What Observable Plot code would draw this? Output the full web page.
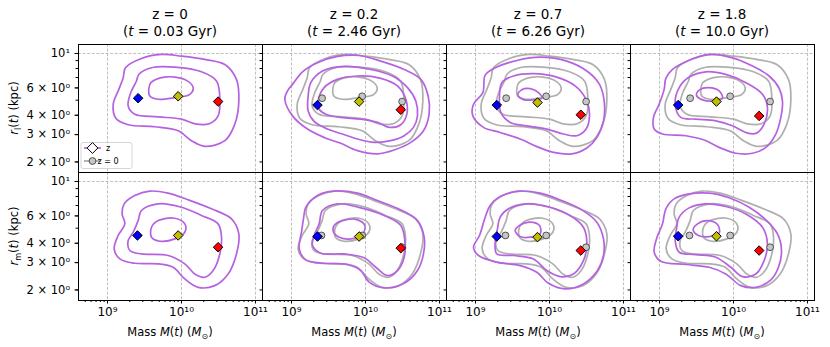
<!DOCTYPE html>
<html><head><meta charset="utf-8">
<script src="https://cdn.jsdelivr.net/npm/d3@7"></script>
<script src="https://cdn.jsdelivr.net/npm/@observablehq/plot@0.6"></script>
<style>
body{margin:0;background:#fff;}
#chart{width:830px;height:347px;}
text{font-family:"DejaVu Sans";}
</style></head><body><div id="chart"></div>
<script>
// ---------- data ----------
const redshifts = ["0", "0.2", "0.7", "1.8"];
const ages = ["0.03", "2.46", "6.26", "10.0"];
const markerNames = ["low", "mid", "high"];
// marker positions: log10 mass, radius in kpc (per column)
const rlLogMass = [[9.414, 9.955, 10.495], [9.351, 9.914, 10.477], [9.288, 9.838, 10.423], [9.252, 9.770, 10.347]];
const rlRadius = [[5.15, 5.30, 4.90], [4.65, 4.90, 4.34], [4.65, 4.83, 4.03], [4.65, 4.90, 3.96]];
const rmLogMass = [[9.405, 9.955, 10.495], [9.351, 9.914, 10.477], [9.288, 9.838, 10.423], [9.252, 9.770, 10.347]];
const rmRadius = [[4.49, 4.49, 3.77], [4.42, 4.42, 3.72], [4.42, 4.38, 3.59], [4.44, 4.44, 3.59]];
const xMajor = [1e9, 1e10, 1e11];
const xMinor = [5e8, 6e8, 7e8, 8e8, 9e8, 2e9, 3e9, 4e9, 5e9, 6e9, 7e9, 8e9, 9e9, 2e10, 3e10, 4e10, 5e10, 6e10, 7e10, 8e10, 9e10];
const yLabelled = [2, 3, 4, 6, 10];
const yUnlabelled = [5, 7, 8, 9];
// contour vertices: [log10 M, log10 r] ; three levels (outer, middle, inner)
const rl_z00 = [
 [[9.243,0.908],[9.459,0.968],[9.730,0.994],[10.0,0.983],[10.315,0.962],[10.586,0.929],[10.743,0.833],[10.775,0.694],[10.721,0.545],[10.586,0.438],[10.315,0.402],[10.135,0.438],[9.955,0.502],[9.640,0.528],[9.279,0.541],[9.113,0.583],[9.077,0.673],[9.153,0.769],[9.212,0.844]],
 [[9.423,0.865],[9.595,0.908],[9.910,0.912],[10.270,0.882],[10.473,0.823],[10.518,0.716],[10.495,0.598],[10.383,0.549],[10.203,0.545],[10.0,0.577],[9.685,0.592],[9.369,0.609],[9.279,0.662],[9.315,0.748],[9.392,0.823]],
 [[9.586,0.812],[9.775,0.848],[10.045,0.833],[10.158,0.780],[10.113,0.737],[9.910,0.716],[9.685,0.705],[9.572,0.726],[9.559,0.776]]
];
const rl_z02 = [
 [[9.014,0.801],[9.149,0.882],[9.351,0.940],[9.622,0.981],[9.914,0.987],[10.207,0.951],[10.523,0.897],[10.748,0.833],[10.847,0.726],[10.860,0.609],[10.784,0.502],[10.613,0.427],[10.387,0.378],[10.162,0.353],[9.892,0.374],[9.667,0.421],[9.441,0.459],[9.216,0.513],[9.014,0.598],[8.910,0.705],[8.946,0.759]],
 [[9.261,0.812],[9.419,0.887],[9.712,0.917],[10.072,0.897],[10.365,0.855],[10.568,0.780],[10.680,0.694],[10.703,0.598],[10.649,0.524],[10.523,0.470],[10.342,0.438],[10.117,0.427],[9.892,0.449],[9.689,0.481],[9.486,0.513],[9.306,0.562],[9.225,0.630],[9.225,0.726]],
 [[9.360,0.694],[9.441,0.780],[9.622,0.833],[9.892,0.855],[10.207,0.840],[10.432,0.791],[10.545,0.705],[10.559,0.609],[10.477,0.541],[10.320,0.524],[10.162,0.556],[9.937,0.577],[9.667,0.588],[9.464,0.609],[9.374,0.641]]
];
const rl_z07 = [
 [[9.131,0.861],[9.266,0.908],[9.559,0.955],[9.874,0.976],[10.234,0.951],[10.505,0.887],[10.676,0.801],[10.739,0.694],[10.730,0.566],[10.640,0.459],[10.505,0.391],[10.302,0.353],[10.054,0.363],[9.829,0.400],[9.604,0.449],[9.333,0.491],[9.108,0.524],[8.964,0.598],[8.973,0.673],[9.099,0.748]],
 [[9.324,0.716],[9.356,0.812],[9.514,0.855],[9.784,0.870],[10.099,0.848],[10.347,0.791],[10.505,0.694],[10.541,0.598],[10.495,0.513],[10.369,0.470],[10.189,0.481],[9.964,0.513],[9.694,0.534],[9.468,0.556],[9.342,0.620]],
 [[9.572,0.733],[9.626,0.767],[9.739,0.774],[9.851,0.748],[9.896,0.712],[9.784,0.701],[9.649,0.703]]
];
const rl_z18 = [
 [[9.086,0.840],[9.176,0.897],[9.356,0.947],[9.671,0.994],[9.986,0.972],[10.257,0.919],[10.482,0.855],[10.617,0.776],[10.662,0.694],[10.640,0.588],[10.572,0.481],[10.437,0.395],[10.257,0.357],[10.032,0.357],[9.806,0.395],[9.604,0.442],[9.356,0.470],[9.041,0.481],[8.928,0.513],[8.919,0.588],[8.995,0.673],[9.063,0.769]],
 [[9.212,0.673],[9.266,0.780],[9.401,0.848],[9.626,0.882],[9.896,0.865],[10.167,0.812],[10.392,0.737],[10.459,0.652],[10.414,0.545],[10.302,0.485],[10.167,0.491],[9.986,0.534],[9.761,0.566],[9.491,0.577],[9.288,0.588]],
 [[9.500,0.731],[9.545,0.767],[9.662,0.780],[9.806,0.759],[9.851,0.712],[9.739,0.694],[9.581,0.701]]
];
const rm_z00 = [
 [[9.225,0.856],[9.369,0.910],[9.572,0.938],[9.820,0.925],[10.090,0.882],[10.405,0.824],[10.676,0.759],[10.775,0.662],[10.743,0.533],[10.631,0.404],[10.450,0.329],[10.225,0.318],[10.045,0.372],[9.887,0.447],[9.685,0.469],[9.369,0.473],[9.167,0.501],[9.090,0.566],[9.144,0.652],[9.234,0.727],[9.198,0.791]],
 [[9.459,0.813],[9.685,0.856],[10.0,0.834],[10.270,0.781],[10.495,0.727],[10.541,0.641],[10.518,0.533],[10.428,0.426],[10.315,0.383],[10.180,0.404],[10.045,0.469],[9.820,0.523],[9.459,0.533],[9.302,0.555],[9.279,0.619],[9.347,0.673],[9.414,0.748]],
 [[9.595,0.705],[9.685,0.748],[9.910,0.763],[10.045,0.727],[10.045,0.673],[9.910,0.630],[9.707,0.615],[9.595,0.641]]
];
const rm_z02 = [
 [[9.194,0.834],[9.351,0.910],[9.577,0.938],[9.892,0.925],[10.162,0.877],[10.477,0.817],[10.703,0.748],[10.793,0.641],[10.784,0.533],[10.703,0.426],[10.523,0.344],[10.252,0.314],[10.050,0.351],[9.937,0.426],[9.757,0.465],[9.441,0.473],[9.194,0.495],[9.104,0.566],[9.135,0.673],[9.162,0.759]],
 [[9.419,0.813],[9.622,0.856],[9.937,0.830],[10.252,0.781],[10.477,0.716],[10.532,0.619],[10.523,0.512],[10.432,0.426],[10.297,0.394],[10.140,0.447],[9.982,0.508],[9.712,0.533],[9.396,0.538],[9.284,0.587],[9.306,0.652],[9.374,0.727]],
 [[9.577,0.716],[9.689,0.748],[9.892,0.753],[9.991,0.716],[9.959,0.662],[9.802,0.630],[9.644,0.641],[9.568,0.673]]
];
const rm_z07 = [
 [[9.198,0.845],[9.333,0.903],[9.604,0.938],[9.874,0.925],[10.167,0.877],[10.437,0.817],[10.640,0.738],[10.730,0.630],[10.730,0.523],[10.649,0.426],[10.459,0.340],[10.212,0.308],[9.986,0.344],[9.829,0.415],[9.604,0.458],[9.288,0.480],[9.041,0.523],[8.973,0.576],[9.054,0.652],[9.131,0.770]],
 [[9.333,0.770],[9.446,0.824],[9.694,0.856],[10.009,0.834],[10.279,0.781],[10.459,0.705],[10.505,0.598],[10.459,0.490],[10.324,0.404],[10.144,0.387],[9.964,0.426],[9.784,0.501],[9.514,0.523],[9.288,0.533],[9.266,0.609],[9.297,0.695]],
 [[9.536,0.684],[9.604,0.720],[9.739,0.738],[9.865,0.716],[9.874,0.662],[9.739,0.641],[9.604,0.645]]
];
const rm_z18 = [
 [[9.086,0.824],[9.198,0.888],[9.401,0.920],[9.671,0.925],[9.941,0.895],[10.212,0.834],[10.437,0.753],[10.595,0.662],[10.649,0.555],[10.608,0.447],[10.505,0.366],[10.302,0.318],[10.099,0.329],[9.896,0.404],[9.671,0.447],[9.356,0.465],[9.018,0.486],[8.928,0.544],[8.959,0.630],[9.041,0.727]],
 [[9.266,0.770],[9.401,0.830],[9.626,0.856],[9.896,0.839],[10.167,0.791],[10.392,0.705],[10.459,0.598],[10.414,0.490],[10.302,0.404],[10.122,0.387],[9.964,0.447],[9.761,0.512],[9.491,0.529],[9.266,0.544],[9.212,0.619],[9.230,0.695]],
 [[9.455,0.688],[9.514,0.727],[9.649,0.748],[9.784,0.723],[9.806,0.667],[9.671,0.645],[9.527,0.652]]
];

// ---------- build tables ----------
const contourSets = [[rl_z00, rl_z02, rl_z07, rl_z18], [rm_z00, rm_z02, rm_z07, rm_z18]];
const markerMass = [rlLogMass, rmLogMass];
const markerRadius = [rlRadius, rmRadius];
const purpleLines = [], greyLines = [], diamonds = [], circles = [];
contourSets.forEach((set, row) => set.forEach((levels, col) => {
  levels.forEach((pts, k) => pts.forEach(([lm, lr]) =>
    purpleLines.push({row, col, id: `p${row}-${col}-${k}`, M: 10 ** lm, r: 10 ** lr})));
  if (col > 0) set[0].forEach((pts, k) => pts.forEach(([lm, lr]) =>
    greyLines.push({row, col, id: `g${row}-${col}-${k}`, M: 10 ** lm, r: 10 ** lr})));
}));
[0, 1].forEach(row => redshifts.forEach((_, col) => markerNames.forEach((name, i) => {
  diamonds.push({row, col, name, M: 10 ** markerMass[row][col][i], r: markerRadius[row][col][i]});
  if (col > 0) circles.push({row, col, M: 10 ** markerMass[row][0][i], r: markerRadius[row][0][i]});
})));

const SUP = "⁰¹²³⁴⁵⁶⁷⁸⁹";
const sup = n => String(n).split("").map(c => SUP[+c]).join("");
const fmtX = d => "10" + sup(Math.round(Math.log10(d)));
const fmtY = d => {
  const e = Math.floor(Math.log10(d) + 1e-9), m = Math.round(d / 10 ** e);
  return m === 1 ? "10" + sup(e) : `${m} × 10${sup(e)}`;
};
const PURPLE = "#b662e0", GREY = "#a6a6a6";
const blank = () => "";

const plot = Plot.plot({
  width: 830, height: 347,
  marginLeft: 77, marginRight: 15, marginTop: 43, marginBottom: 47,
  style: {fontFamily: "DejaVu Sans", fontSize: "11px", color: "black", background: "white", overflow: "visible"},
  x: {type: "log", domain: [10 ** 8.608, 10 ** 11.095]},
  y: {type: "log", domain: [10 ** 0.233, 10 ** 1.058]},
  fx: {domain: [0, 1, 2, 3], padding: 0, axis: null},
  fy: {domain: [0, 1], padding: 0, axis: null},
  color: {domain: markerNames, range: ["#0000ff", "#bfbf00", "#ff0000"]},
  marks: [
    Plot.ruleX(xMajor, {stroke: "#b0b0b0", strokeWidth: 0.8, strokeDasharray: "3,1.6"}),
    Plot.ruleY([10], {stroke: "#b0b0b0", strokeWidth: 0.8, strokeDasharray: "3,1.6"}),
    Plot.line(greyLines, {x: "M", y: "r", z: "id", fx: "col", fy: "row", curve: "catmull-rom-closed", stroke: GREY, strokeWidth: 1.7, strokeOpacity: 0.9}),
    Plot.line(purpleLines, {x: "M", y: "r", z: "id", fx: "col", fy: "row", curve: "catmull-rom-closed", stroke: PURPLE, strokeWidth: 1.7}),
    Plot.dot(circles, {x: "M", y: "r", fx: "col", fy: "row", r: 3.4, fill: "#c6c6c6", stroke: "#444", strokeWidth: 0.9}),
    Plot.dot(diamonds, {x: "M", y: "r", fx: "col", fy: "row", symbol: "diamond2", r: 4.3, fill: "name", stroke: "black", strokeWidth: 1}),
    Plot.frame({stroke: "black", strokeWidth: 1}),
    Plot.axisX(xMajor, {text: fmtX, tickSize: 3.5, tickPadding: 3, label: null, fontSize: 12}),
    Plot.axisX(xMinor, {tickFormat: blank, tickSize: 2, label: null}),
    Plot.axisY(yLabelled, {text: fmtY, tickSize: 3.5, tickPadding: 5, label: null, fontSize: 11.5}),
    Plot.axisY([...yLabelled, ...yUnlabelled], {facetAnchor: null, tickFormat: blank, tickSize: 2.5, label: null})
  ]
});
document.getElementById("chart").appendChild(plot);

// ---------- titles, axis labels, legend ----------
const fx = plot.scale("fx"), fy = plot.scale("fy");
const svg = d3.select(plot);
const addText = (x, y, size, parts, anchor = "middle") => {
  const t = svg.append("text").attr("x", x).attr("y", y).attr("text-anchor", anchor)
    .style("font-size", size + "px").attr("fill", "black");
  parts.forEach(p => {
    const s = t.append("tspan").text(p.t);
    if (p.i) s.style("font-style", "italic");
    if (p.sub) s.attr("dy", 3).style("font-size", (size * 0.7) + "px");
    if (p.up) s.attr("dy", -3);
  });
  return t;
};
redshifts.forEach((z, c) => {
  const cx = fx.apply(c) + fx.bandwidth / 2;
  addText(cx, 19, 13.5, [{t: `z = ${z}`}]);
  addText(cx, 36, 13.5, [{t: "("}, {t: "t", i: 1}, {t: ` = ${ages[c]} Gyr)`}]);
  addText(cx, 336, 11.5, [{t: "Mass "}, {t: "M", i: 1}, {t: "("}, {t: "t", i: 1}, {t: ") ("}, {t: "M", i: 1}, {t: "⊙", sub: 1}, {t: ")", up: 1}]);
});
[["l", 0], ["m", 1]].forEach(([s, row]) => {
  const cy = fy.apply(row) + fy.bandwidth / 2;
  const t = addText(0, 0, 11.5, [{t: "r", i: 1}, {t: s, sub: 1}, {t: "(", up: 1}, {t: "t", i: 1}, {t: ") (kpc)"}]);
  t.attr("transform", `translate(18,${cy}) rotate(-90)`);
});
// legend in first panel
const lx = fx.apply(0), ly = fy.apply(0);
const lg = svg.append("g").attr("transform", `translate(${lx},${ly})`);
lg.append("rect").attr("x", 3).attr("y", 98.5).attr("width", 51).attr("height", 26).attr("rx", 2)
  .attr("fill", "white").attr("fill-opacity", 0.8).attr("stroke", "#cccccc").attr("stroke-width", 0.8);
lg.append("line").attr("x1", 6).attr("x2", 23).attr("y1", 104).attr("y2", 104).attr("stroke", PURPLE).attr("stroke-width", 1.7);
lg.append("path").attr("d", "M14.5,98.6L19.9,104L14.5,109.4L9.1,104Z").attr("fill", "white").attr("stroke", "black");
lg.append("line").attr("x1", 6).attr("x2", 23).attr("y1", 117).attr("y2", 117).attr("stroke", GREY).attr("stroke-width", 1.7);
lg.append("circle").attr("cx", 14.5).attr("cy", 117).attr("r", 3.4).attr("fill", "#c6c6c6").attr("stroke", "#444").attr("stroke-width", 0.9);
lg.append("text").attr("x", 30).attr("y", 106.8).style("font-size", "8px").text("z");
lg.append("text").attr("x", 30).attr("y", 119.8).style("font-size", "8px").text("z = 0");
</script></body></html>
